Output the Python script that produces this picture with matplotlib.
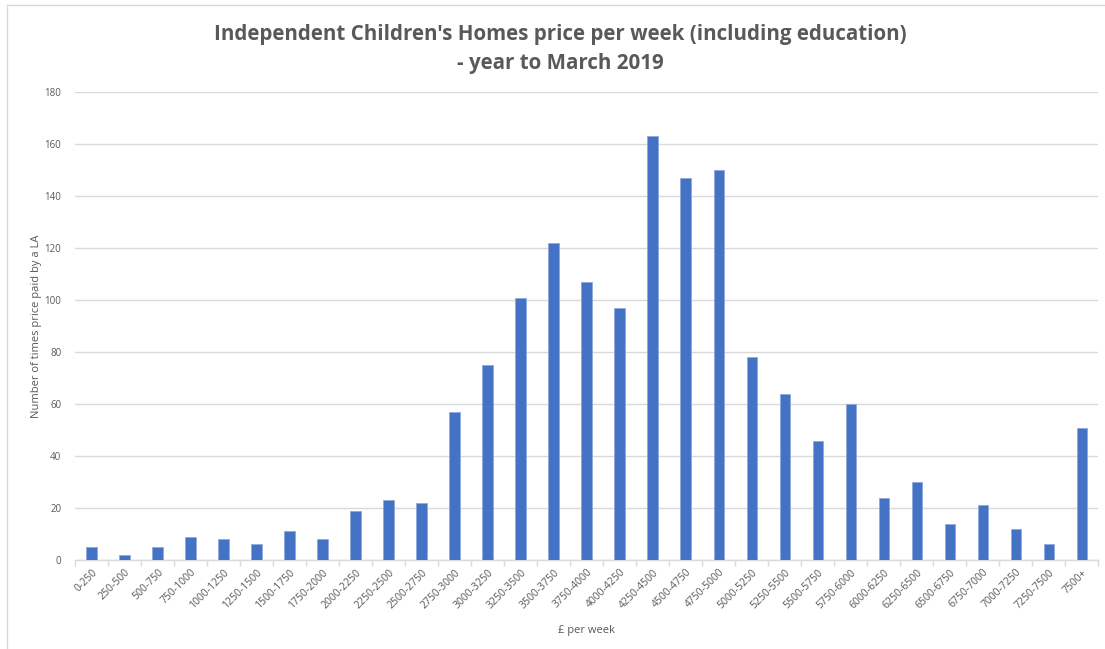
import matplotlib.pyplot as plt
from matplotlib.lines import Line2D

# price bands (£ per week) and number of times each price was paid
bands = ['0-250', '250-500', '500-750', '750-1000', '1000-1250', '1250-1500',
         '1500-1750', '1750-2000', '2000-2250', '2250-2500', '2500-2750',
         '2750-3000', '3000-3250', '3250-3500', '3500-3750', '3750-4000',
         '4000-4250', '4250-4500', '4500-4750', '4750-5000', '5000-5250',
         '5250-5500', '5500-5750', '5750-6000', '6000-6250', '6250-6500',
         '6500-6750', '6750-7000', '7000-7250', '7250-7500', '7500+']
counts = [5, 2, 5, 9, 8, 6, 11, 8, 19, 23, 22, 57, 75, 101, 122, 107, 97,
          163, 147, 150, 78, 64, 46, 60, 24, 30, 14, 21, 12, 6, 51]
yticks = [0, 20, 40, 60, 80, 100, 120, 140, 160, 180]

plt.rcParams['font.family'] = ['Open Sans', 'DejaVu Sans']
grey = '#595959'
grid = '#D9D9D9'

fig = plt.figure(figsize=(11.05, 6.49), dpi=100)
ax = fig.add_axes([0.068, 0.137, 0.926, 0.721])

x = range(len(bands))
ax.bar(x, counts, width=0.32, color='#4472C4', edgecolor='#8FAADC',
       linewidth=0.6, zorder=3)

ax.set_xlim(-0.5, len(bands) - 0.5)
ax.set_ylim(0, 180)
ax.set_yticks(yticks)
ax.yaxis.grid(True, color=grid, linewidth=1, zorder=0)
ax.tick_params(axis='y', length=0, labelsize=7, labelcolor=grey, pad=10)

ax.set_xticks(list(x))
ax.set_xticklabels(bands, rotation=45, ha='right', rotation_mode='anchor',
                   fontsize=7.5, color=grey)
ax.tick_params(axis='x', which='major', length=0, pad=5)
ax.set_xticks([i - 0.5 for i in range(len(bands) + 1)], minor=True)
ax.tick_params(axis='x', which='minor', length=4, color=grid, width=1)

for s in ['top', 'right', 'left']:
    ax.spines[s].set_visible(False)
ax.spines['bottom'].set_color(grid)
ax.spines['bottom'].set_linewidth(1)

ax.set_xlabel('£ per week', fontsize=8, color=grey, labelpad=10)
ax.set_ylabel('Number of times price paid by a LA', fontsize=8, color=grey,
              labelpad=2)

fig.text(0.507, 0.947, "Independent Children's Homes price per week (including education)",
         ha='center', va='center', fontsize=14.8, fontweight='bold', color=grey)
fig.text(0.507, 0.902, '- year to March 2019',
         ha='center', va='center', fontsize=14.8, fontweight='bold', color=grey)

# chart frame edges
fig.add_artist(Line2D([7 / 1105, 7 / 1105], [0, 1 - 5 / 649],
                      transform=fig.transFigure, color=grid, linewidth=1))
fig.add_artist(Line2D([7 / 1105, 1], [1 - 5 / 649, 1 - 5 / 649],
                      transform=fig.transFigure, color=grid, linewidth=1))

fig.savefig('out.png', dpi=100)
